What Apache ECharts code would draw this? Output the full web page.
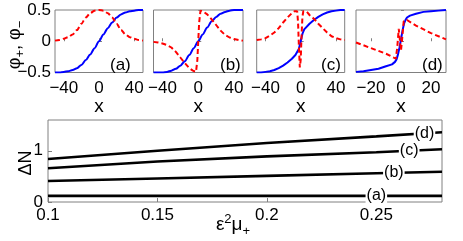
<!DOCTYPE html>
<html>
<head>
<meta charset="utf-8">
<script src="https://cdn.jsdelivr.net/npm/echarts@6/dist/echarts.min.js"></script>
<style>html,body{margin:0;padding:0;background:#fff}#c{width:463px;height:241px}</style>
</head>
<body>
<div id="c"></div>
<script>
// ---------- top panels data ----------
const xA = [-50,-45,-40,-35,-30,-25,-20,-15,-10,-5,0,5,10,15,20,25,30,35,40,45,50];
const blueA = [-0.5,-0.5,-0.49,-0.48,-0.46,-0.43,-0.38,-0.3,-0.21,-0.11,0,0.11,0.21,0.3,0.38,0.43,0.46,0.48,0.49,0.5,0.5];
const redA = [0.01,0.02,0.04,0.065,0.11,0.18,0.28,0.38,0.45,0.49,0.5,0.49,0.45,0.38,0.28,0.18,0.11,0.065,0.04,0.02,0.01];

const xBblue = [-50,-45,-40,-35,-30,-25,-20,-15,-10,-5,0,5,10,15,20,25,30,35,40,45,50];
const blueB = [-0.5,-0.5,-0.5,-0.49,-0.47,-0.44,-0.39,-0.32,-0.22,-0.11,0,0.11,0.22,0.32,0.39,0.44,0.47,0.49,0.5,0.5,0.5];
const xBred = [-50,-45,-40,-35,-30,-25,-20,-15,-10,-6,-4,-2.5,-1,0,1,2.5,4,6,10,15,20,25,30,35,40,45,50];
const redB = [-0.01,-0.02,-0.035,-0.06,-0.1,-0.17,-0.26,-0.35,-0.43,-0.47,-0.49,-0.49,-0.3,0,0.3,0.49,0.49,0.47,0.43,0.35,0.26,0.17,0.1,0.06,0.035,0.02,0.01];

const xCblue = [-50,-45,-40,-35,-30,-25,-20,-15,-10,-6,-4,-2,-1,0,1,2,4,6,10,15,20,25,30,35,40,45,50];
const blueC = [-0.5,-0.5,-0.49,-0.48,-0.46,-0.43,-0.39,-0.34,-0.28,-0.22,-0.19,-0.12,-0.06,0,0.06,0.12,0.19,0.22,0.28,0.34,0.39,0.43,0.46,0.48,0.49,0.5,0.5];
const xCred = [-50,-45,-40,-35,-30,-25,-20,-15,-10,-7,-5,-4,-3,-2,-1,0,1,2,3,5,7,10,15,20,25,30,35,40,45,50];
const redC = [0.02,0.03,0.05,0.09,0.14,0.21,0.3,0.38,0.45,0.48,0.49,0.48,0.3,-0.1,-0.42,-0.3,0.1,0.4,0.48,0.49,0.47,0.42,0.36,0.28,0.21,0.14,0.08,0.05,0.03,0.02];

const xDblue = [-30,-25,-20,-15,-10,-6,-4,-3,-2,-1,0,1,2,3,4,6,10,15,20,25,30];
const blueD = [-0.49,-0.48,-0.46,-0.44,-0.4,-0.37,-0.33,-0.29,-0.21,-0.1,0.03,0.17,0.28,0.34,0.38,0.41,0.44,0.47,0.48,0.49,0.5];
const xDred = [-30,-20,-10,-5,-3.5,-2.5,-1.5,-1,0,0.8,1.8,4,10,20,30];
const redD = [-0.02,-0.11,-0.2,-0.26,-0.28,-0.1,0.2,0.18,-0.15,0.05,0.32,0.34,0.25,0.13,0.03];

const topTicksABC = [-40,0,40];
const topTicksD = [-20,0,20];
const phiTicks = [-0.5,0,0.5];

// ---------- bottom panel data ----------
const mu = [0.1,0.15,0.2,0.25,0.28];
const dNa = [0.12,0.12,0.12,0.12,0.12];
const dNb = [0.41,0.46,0.51,0.56,0.59];
const dNc = [0.66,0.79,0.89,0.97,1.03];
const dNd = [0.84,1.0,1.15,1.28,1.36];
const muTicks = [0.1,0.15,0.2,0.25];
const dNTicks = [0,1];
const curveLabels = ['(a)','(b)','(c)','(d)'];
const labelMu = [0.25,0.258,0.265,0.272];

const FF = "'Liberation Sans', Arial, sans-serif";
const FS = 17;
const pairs = (xs, ys) => xs.map((x,i)=>[x, ys[i]]);
const interp = (xs, ys, x) => {
  for (let i=0;i<xs.length-1;i++){
    if (x>=xs[i] && x<=xs[i+1]) { const t=(x-xs[i])/(xs[i+1]-xs[i]); return ys[i]+t*(ys[i+1]-ys[i]); }
  }
  return ys[ys.length-1];
};

const frame = '#808080';
const grids = [
  {left:55, top:10, width:88, height:62.5},
  {left:153.5, top:10, width:89.5, height:62.5},
  {left:256.7, top:10, width:88, height:62.5},
  {left:356, top:10, width:90, height:62.5},
  {left:48, top:120, width:394, height:82}
].map(g=>Object.assign({show:true, borderColor:frame, borderWidth:1, backgroundColor:'transparent'}, g));

const fmtMinus = v => (v<0?'\u2212'+(-v):String(v));
function topX(i, min, max, ticks){
  return {type:'value', gridIndex:i, min, max,
    axisLine:{show:false},
    axisTick:{show:true, inside:true, length:3, customValues:ticks, lineStyle:{color:frame}},
    axisLabel:{customValues:ticks, color:'#000', fontSize:FS, fontFamily:FF, margin:7, formatter:fmtMinus},
    splitLine:{show:false},
    name:'x', nameLocation:'middle', nameGap:24,
    nameTextStyle:{color:'#000', fontSize:19, fontFamily:FF}};
}
function topY(i, showLabels){
  return {type:'value', gridIndex:i, min:-0.5, max:0.5,
    axisLine:{show:false},
    axisTick:{show:true, inside:true, length:3, customValues:phiTicks, lineStyle:{color:frame}},
    axisLabel:{show:showLabels, customValues:phiTicks, color:'#000', fontSize:FS, fontFamily:FF, margin:4, formatter:fmtMinus},
    splitLine:{show:false}};
}

const blueStyle = {color:'#0000ff', width:2};
const redStyle = {color:'#ff0000', width:2, type:[5,3]};
function ln(i, data, style, smooth){
  return {type:'line', xAxisIndex:i, yAxisIndex:i, data, showSymbol:false, symbol:'none',
    lineStyle:style, smooth:smooth||false, smoothMonotone:'x', animation:false, z:3};
}

const bottomSets = [dNa, dNb, dNc, dNd];
const bottomSeries = bottomSets.map((ys, k)=>({
  type:'line', xAxisIndex:4, yAxisIndex:4, data:pairs(mu, ys), showSymbol:false, symbol:'none',
  lineStyle:{color:'#000', width:2.6}, animation:false,
  markPoint:{symbol:'rect', symbolSize:1, itemStyle:{color:'transparent'}, animation:false,
    data:[{coord:[labelMu[k], interp(mu, ys, labelMu[k])], value:curveLabels[k]}],
    label:{show:true, position:'inside', formatter:curveLabels[k], color:'#000', fontSize:16, fontFamily:FF,
      backgroundColor:'#fff', padding:[0,1,0,1]}}
}));

const option = {
  animation:false,
  grid: grids,
  xAxis: [
    topX(0,-50,50,topTicksABC), topX(1,-50,50,topTicksABC), topX(2,-50,50,topTicksABC), topX(3,-30,30,topTicksD),
    {type:'value', gridIndex:4, min:0.1, max:0.28,
      axisLine:{show:false},
      axisTick:{show:true, inside:true, length:4, customValues:muTicks, lineStyle:{color:frame}},
      axisLabel:{customValues:muTicks, color:'#000', fontSize:FS, fontFamily:FF, margin:5},
      splitLine:{show:false}}
  ],
  yAxis: [
    topY(0,true), topY(1,false), topY(2,false), topY(3,false),
    {type:'value', gridIndex:4, min:0, max:1.6,
      axisLine:{show:false},
      axisTick:{show:true, inside:true, length:4, customValues:dNTicks, lineStyle:{color:frame}},
      axisLabel:{customValues:dNTicks, color:'#000', fontSize:FS, fontFamily:FF, margin:5},
      splitLine:{show:false}}
  ],
  series: [
    ln(0, pairs(xA, blueA), blueStyle, 0.3), ln(0, pairs(xA, redA), redStyle, 0.3),
    ln(1, pairs(xBblue, blueB), blueStyle, 0.3), ln(1, pairs(xBred, redB), redStyle),
    ln(2, pairs(xCblue, blueC), blueStyle), ln(2, pairs(xCred, redC), redStyle),
    ln(3, pairs(xDblue, blueD), blueStyle), ln(3, pairs(xDred, redD), redStyle),
    ...bottomSeries
  ],
  graphic: [
    {type:'text', left:110, top:57, style:{text:'(a)', fontSize:17, fontFamily:FF, fill:'#000'}},
    {type:'text', left:220, top:57, style:{text:'(b)', fontSize:17, fontFamily:FF, fill:'#000'}},
    {type:'text', left:321, top:57, style:{text:'(c)', fontSize:17, fontFamily:FF, fill:'#000'}},
    {type:'text', left:422, top:57, style:{text:'(d)', fontSize:17, fontFamily:FF, fill:'#000'}},
    {type:'text', x:15, y:45, rotation:Math.PI/2,
      style:{text:'φ{sub|+}, φ{sub|\u2212}', fontSize:18, fontFamily:FF, fill:'#000', align:'center', verticalAlign:'middle',
        rich:{sub:{fontSize:13, fontFamily:FF, fill:'#000', padding:[10,0,0,0]}}}},
    {type:'text', x:26, y:163, rotation:Math.PI/2,
      style:{text:'ΔN', fontSize:18, fontFamily:FF, fill:'#000', align:'center', verticalAlign:'middle'}},
    {type:'text', x:233, y:225,
      style:{text:'ε{sup|2}μ{sub|+}', fontSize:19, fontFamily:FF, fill:'#000', align:'center', verticalAlign:'middle',
        rich:{sup:{fontSize:13, fontFamily:FF, fill:'#000', padding:[0,0,11,0]}, sub:{fontSize:13, fontFamily:FF, fill:'#000', padding:[13,0,0,0]}}}}
  ]
};
const chart = echarts.init(document.getElementById('c'), null, {renderer:'canvas'});
chart.setOption(option);
</script>
</body>
</html>
